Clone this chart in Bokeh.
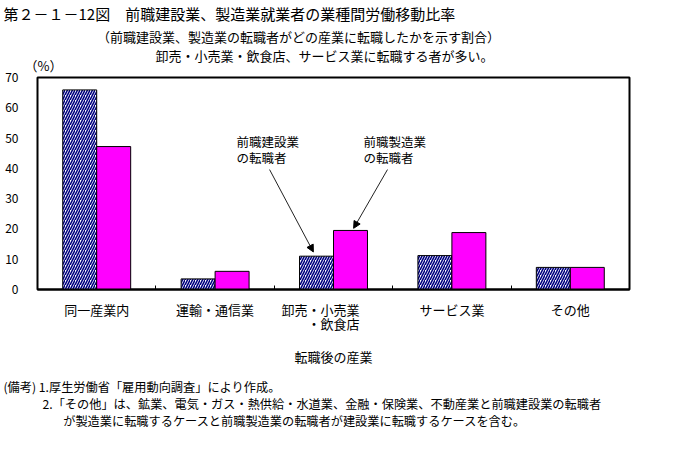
from bokeh.plotting import figure
from bokeh.models import (Range1d, FixedTicker, Label, Arrow, NormalHead, ColumnDataSource,
                          Title, LinearAxis)
from bokeh.embed import file_html
from bokeh.resources import INLINE

# ---- data ----
categories = ["同一産業内", "運輸・通信業", "卸売・小売業\u3000\u3000\n・飲食店", "サービス業", "その他"]
construction = [65.9, 3.5, 11.0, 11.2, 7.3]    # 前職建設業の転職者 (%)
manufacturing = [47.2, 6.0, 19.5, 18.8, 7.3]   # 前職製造業の転職者 (%)
y_ticks = [0, 10, 20, 30, 40, 50, 60, 70]

TITLE = "第２－１－12図　前職建設業、製造業就業者の業種間労働移動比率"
SUBTITLE = "（前職建設業、製造業の転職者がどの産業に転職したかを示す割合）"
HEADLINE = "卸売・小売業・飲食店、サービス業に転職する者が多い。"
UNIT = "（%）"
NOTES = [
    "(備考) 1.厚生労働省「雇用動向調査」により作成。",
    "2.「その他」は、鉱業、電気・ガス・熱供給・水道業、金融・保険業、不動産業と前職建設業の転職者",
    "が製造業に転職するケースと前職製造業の転職者が建設業に転職するケースを含む。",
]

FONT = "Noto Sans CJK JP"
BAR_W = 0.287
W, H = 668, 443
FL, FR, FT, FB = 37, 629, 77, 289   # plot frame edges in page pixels

n = len(categories)
centers = [i + 0.5 for i in range(n)]
src = ColumnDataSource(dict(
    xc=[c - BAR_W / 2 for c in centers],
    xm=[c + BAR_W / 2 for c in centers],
    con=construction,
    man=manufacturing,
))

p = figure(width=W, height=H, x_range=Range1d(0, n), y_range=Range1d(0, 70),
           output_backend="svg", toolbar_location=None,
           min_border_left=FL, min_border_right=W - FR, min_border_top=FT,
           min_border_bottom=H - FB)
p.background_fill_color = "white"
p.border_fill_color = "white"
p.outline_line_color = "black"
p.outline_line_width = 2
p.grid.visible = False

p.vbar(x="xc", top="con", width=BAR_W, source=src, fill_color="white",
       hatch_pattern="/", hatch_color="#000080", hatch_scale=5, hatch_weight=1.6,
       line_color="black", line_width=1)
p.vbar(x="xm", top="man", width=BAR_W, source=src, fill_color="#FF00FF",
       line_color="black", line_width=1)

# y axis
ya = p.yaxis[0]
ya.ticker = FixedTicker(ticks=y_ticks)
ya.major_tick_in = 0
ya.major_tick_out = 0
ya.minor_tick_in = 0
ya.minor_tick_out = 0
ya.axis_line_color = None
ya.major_label_standoff = 19
ya.major_label_text_font = FONT
ya.major_label_text_font_size = "12px"
ya.major_label_text_color = "black"

# x axis
xa = p.xaxis[0]
xa.ticker = FixedTicker(ticks=centers, minor_ticks=[i for i in range(1, n)])
xa.major_label_overrides = {c: lab for c, lab in zip(centers, categories)}
xa.major_tick_in = 0
xa.major_tick_out = 0
xa.minor_tick_in = 4
xa.minor_tick_out = 0
xa.minor_tick_line_color = "black"
xa.axis_line_color = "black"
xa.axis_line_width = 2
xa.major_label_standoff = 10
xa.major_label_text_font = FONT
xa.major_label_text_font_size = "13px"
xa.major_label_text_line_height = 0.78
xa.major_label_text_color = "black"
xa.axis_label = "転職後の産業"
xa.axis_label_text_font = FONT
xa.axis_label_text_font_size = "13px"
xa.axis_label_text_font_style = "normal"
xa.axis_label_text_color = "black"
xa.axis_label_standoff = 11

# annotations with arrows
for xs, xe, ye in [(1.96, 2.33, 12.4), (2.956, 2.67, 20.2)]:
    p.add_layout(Arrow(end=NormalHead(size=7, fill_color="black", line_color="black", line_width=1),
                       x_start=xs, y_start=39.6, x_end=xe, y_end=ye,
                       line_color="#222222", line_width=1))
for x0, txt in [(1.68, "前職建設業\nの転職者"), (2.753, "前職製造業\nの転職者")]:
    p.add_layout(Label(x=x0, y=52.1, text=txt, text_align="left", text_baseline="top",
                       text_font=FONT, text_font_size="12.5px", text_line_height=0.87,
                       text_color="black"))

# header rows just above the frame: unit "(%)", headline and subtitle as labels of a bare axis
p.extra_x_ranges = {"hdr": Range1d(FL, FR)}
hdr = LinearAxis(x_range_name="hdr", ticker=FixedTicker(ticks=[43, 298, 324]),
                 major_label_overrides={
                     43: UNIT,
                     298: SUBTITLE + "\n\u3000\n\u3000\n\u3000",
                     324: HEADLINE + "\n\u3000",
                 },
                 axis_line_color=None, major_tick_in=0, major_tick_out=0,
                 minor_tick_in=0, minor_tick_out=0, major_label_standoff=3,
                 major_label_text_font=FONT, major_label_text_font_size="13px",
                 major_label_text_line_height=0.5, major_label_text_color="black")
p.add_layout(hdr, "above")

def title(text, loc, offset, standoff, size="12.5px", lh=1.0):
    p.add_layout(Title(text=text, align="left", offset=offset, standoff=standoff,
                       text_font=FONT, text_font_size=size, text_font_style="normal",
                       text_line_height=lh, text_color="black"), loc)

title(TITLE, "above", -34, 0, size="15px")

notes_text = "\n".join([
    NOTES[0],
    "\u3000" * 3 + "\u2009" + NOTES[1],
    "\u3000" * 4 + "\u2002" + "\u2009\u2009" + NOTES[2],
])
title(notes_text, "below", -34, 14, size="12.2px", lh=0.95)

open("out.html", "w").write(file_html(p, INLINE))
